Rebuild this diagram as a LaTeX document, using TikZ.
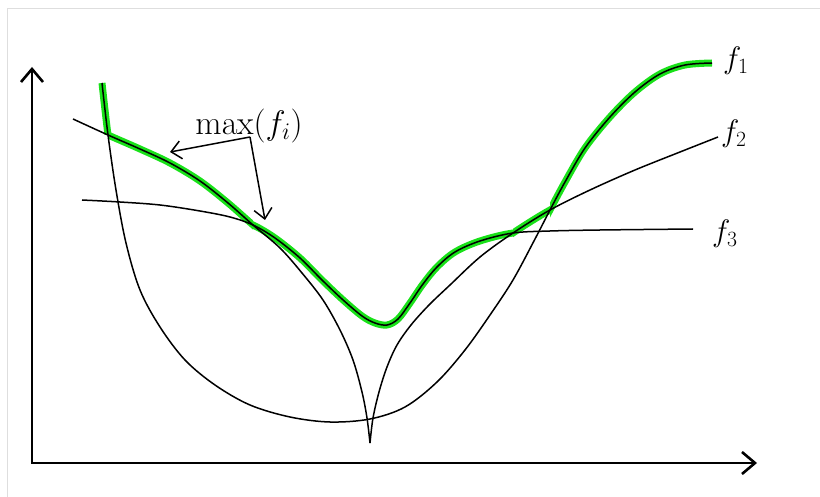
\RequirePackage{fix-cm}
\documentclass[tikz,border=0pt]{standalone}
\usetikzlibrary{arrows.meta}
\definecolor{maxgreen}{RGB}{25,225,25}
\definecolor{framegray}{RGB}{222,222,222}
\begin{document}
\begin{tikzpicture}[x=1pt,y=1pt,
  curve/.style={line width=1.5pt,black},
  glow/.style={line width=7pt,maxgreen},
  axisline/.style={line width=2.6pt,black,line join=miter,
    {Straight Barb[length=13pt,width=22pt]}-{Straight Barb[length=13pt,width=22pt]}},
  ptr/.style={line width=1.5pt,black,-{Straight Barb[length=10pt,width=18pt]}},
  lbl/.style={inner sep=0pt,font=\fontsize{31}{36}\selectfont}]
\useasboundingbox (0,-497) rectangle (820,0);
% frame
\draw[framegray,line width=1pt] (7,-497) -- (7,-9) -- (820,-9);
\def\fone{plot[smooth,tension=0.55] coordinates {(102,-83) (108,-135) (116,-190) (126,-243) (140,-290) (160,-327) (185,-360) (215,-385) (250,-405) (290,-417) (330,-422) (370,-419) (405,-407) (437,-382) (465,-350) (490,-315) (513,-280) (535,-239) (550,-210) (565,-182) (585,-148) (610,-117) (635,-92) (660,-74) (685,-65) (712,-63)}}
\def\ftwoL{plot[smooth,tension=0.55] coordinates {(73,-119) (108,-135) (140,-149) (170,-163) (200,-181) (228,-203) (253,-225) (280,-248) (302,-273) (323,-300) (340,-330) (353,-360) (362,-392) (367,-418) (370,-443)}}
\def\ftwoR{plot[smooth,tension=0.55] coordinates {(370,-443) (373,-418) (379,-392) (387,-367) (397,-345) (411,-325) (429,-305) (450,-285) (480,-257) (513,-233) (550,-210) (590,-190) (635,-170) (680,-152) (718,-137)}}
\def\fthree{plot[smooth,tension=0.55] coordinates {(82,-200) (120,-202) (160,-205) (200,-211) (230,-217) (253,-225) (275,-238) (300,-258) (322,-280) (342,-299) (362,-316) (375,-323) (387,-325) (398,-319) (410,-303) (423,-284) (437,-267) (455,-252) (480,-241) (513,-233) (550,-231) (600,-230) (693,-229)}}
% green max(f_i)
\begin{scope}\clip (0,0) rectangle (200,-135); \draw[glow] \fone; \end{scope}
\begin{scope}\clip (108,0) rectangle (253,-497); \draw[glow] \ftwoL; \end{scope}
\begin{scope}\clip (253,0) rectangle (513,-497); \draw[glow] \fthree; \end{scope}
\begin{scope}\clip (513,0) rectangle (550,-497); \draw[glow] \ftwoR; \end{scope}
\begin{scope}\clip (550,0) rectangle (820,-497); \draw[glow] \fone; \end{scope}
% curves
\draw[curve] \fone;
\draw[curve] \ftwoL;
\draw[curve] \ftwoR;
\draw[curve] \fthree;
% axes
\coordinate (O) at (32,-463);
\coordinate (ytop) at (32,-67);
\coordinate (xend) at (757,-463);
\draw[axisline] (ytop) -- (O) -- (xend);
% labels
\node[lbl,anchor=base west] (l1) at (723,-69) {$f_1$};
\node[lbl,anchor=base west] (l2) at (721,-142) {$f_2$};
\node[lbl,anchor=base west] (l3) at (712,-242) {$f_3$};
\node[lbl,font=\fontsize{34}{40}\selectfont] (lmax) at (249,-126) {$\max(f_i)$};
\coordinate (src) at (250,-137);
\coordinate (tipA) at (170,-152);
\coordinate (tipB) at (265,-220);
\draw[ptr] (src) -- (tipA);
\draw[ptr] (src) -- (tipB);
\end{tikzpicture}
\end{document}
